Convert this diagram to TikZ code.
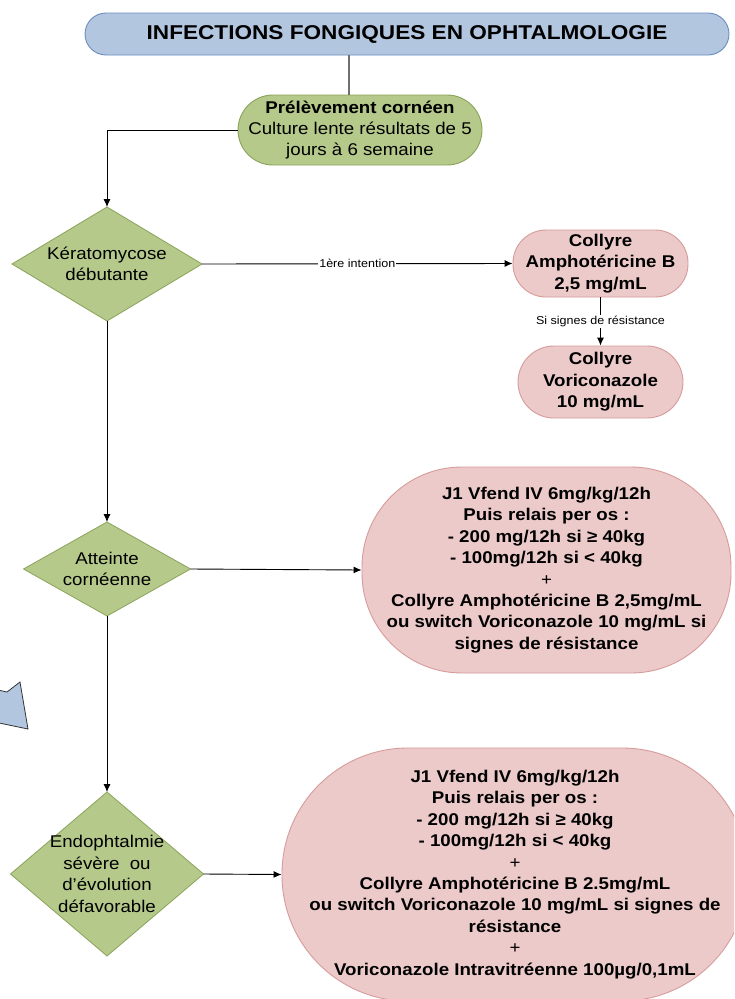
\documentclass[tikz,border=0pt]{standalone}
\usepackage{fontspec}
\setmainfont{Liberation Sans}[FakeStretch=1.1]
\newfontfamily\titlefont{Liberation Sans}[FakeStretch=1.13]
\usetikzlibrary{shapes.geometric,arrows.meta}
\definecolor{titlefill}{HTML}{B3C6E0}
\definecolor{titledraw}{HTML}{6C8EBF}
\definecolor{greenfill}{HTML}{B5C98A}
\definecolor{greendraw}{HTML}{8BA35A}
\definecolor{pinkfill}{HTML}{EDCACA}
\definecolor{pinkdraw}{HTML}{D79B9B}
\definecolor{linegray}{HTML}{707070}
\definecolor{arrowborder}{HTML}{333333}
\tikzset{
  bodytext/.style={font=\fontsize{17}{21.4}\selectfont, align=center, inner sep=0pt},
  boldtext/.style={font=\fontsize{17}{21.4}\selectfont\bfseries, align=center, inner sep=0pt},
  smalllabel/.style={font=\fontsize{11.4}{13}\selectfont, fill=white, inner sep=1pt},
  greenbox/.style={rectangle, draw=greendraw, fill=greenfill, line width=0.9pt, inner sep=0pt},
  pinkbox/.style={rectangle, draw=pinkdraw, fill=pinkfill, line width=0.9pt, inner sep=0pt},
  diam/.style={diamond, draw=greendraw, fill=greenfill, line width=0.8pt, inner sep=0pt, outer sep=0pt},
  conn/.style={draw=black, line width=0.9pt},
  arr/.style={conn, -{Latex[length=8pt,width=7pt]}}
}
\begin{document}
\begin{tikzpicture}[x=1pt,y=-1pt]
\useasboundingbox (0,0) rectangle (734,999);
\clip (0,0) rectangle (734,999);
\fill[white] (0,0) rectangle (734,999);

% partial blue arrow at left edge
\draw[fill=titlefill, draw=arrowborder, line width=0.8pt, line join=miter]
  (-20,686) -- (7,692) -- (20,682) -- (28,729) -- (-20,719) -- cycle;

% title
\node[rectangle, draw=titledraw, fill=titlefill, line width=0.9pt, rounded corners=21pt,
      minimum width=644pt, minimum height=42pt, inner sep=0pt,
      font=\titlefont\fontsize{20}{24}\selectfont\bfseries] (title) at (407,34)
  {INFECTIONS FONGIQUES EN OPHTALMOLOGIE};

% prelevement
\node[greenbox, rounded corners=35pt, minimum width=244pt, minimum height=70pt] (pre) at (360,130) {};
\node[bodytext] (pretext) at (pre.center) {\textbf{Prélèvement cornéen}\\Culture lente résultats de 5\\jours à 6 semaine};

% diamonds
\node[diam, minimum width=190pt, minimum height=114pt] (d1) at (107,264) {};
\node[bodytext] (d1text) at (d1.center) {Kératomycose\\débutante};
\node[diam, minimum width=167pt, minimum height=94pt] (d2) at (107,569) {};
\node[bodytext] (d2text) at (d2.center) {Atteinte\\cornéenne};
\node[diam, minimum width=193pt, minimum height=164pt] (d3) at (107,874) {};
\node[bodytext] (d3text) at (d3.center) {Endophtalmie\\sévère\ \ ou\\d’évolution\\défavorable};

% collyre boxes
\node[pinkbox, rounded corners=33pt, minimum width=175pt, minimum height=67pt] (amph) at (600.5,263.5) {};
\node[boldtext] (amphtext) at (amph.center) {Collyre\\Amphotéricine B\\2,5 mg/mL};
\node[pinkbox, rounded corners=36pt, minimum width=165pt, minimum height=72pt] (vori) at (600.5,382) {};
\node[boldtext] (voritext) at (vori.center) {Collyre\\Voriconazole\\10 mg/mL};

% big box 1
\node[pinkbox, rounded corners=100pt, minimum width=369pt, minimum height=206pt] (big1) at (546.5,570) {};
\node[boldtext] (big1text) at (big1.center) {J1 Vfend IV 6mg/kg/12h\\Puis relais per os :\\- 200 mg/12h si ≥ 40kg\\- 100mg/12h si < 40kg\\{\mdseries +}\\Collyre Amphotéricine B 2,5mg/mL\\ou switch Voriconazole 10 mg/mL si\\signes de résistance};

% big box 2
\node[pinkbox, rounded corners=126pt, minimum width=466pt, minimum height=253pt] (big2) at (515,874.5) {};
\node[boldtext] (big2text) at (big2.center) {J1 Vfend IV 6mg/kg/12h\\Puis relais per os :\\- 200 mg/12h si ≥ 40kg\\- 100mg/12h si < 40kg\\{\mdseries +}\\Collyre Amphotéricine B 2.5mg/mL\\ou switch Voriconazole 10 mg/mL si signes de\\résistance\\{\mdseries +}\\Voriconazole Intravitréenne 100µg/0,1mL};

% connectors
\coordinate (t1) at (349,55);
\draw[draw=linegray, line width=1.1pt] (t1) -- (t1 |- pre.north);
\draw[arr] (pre.west) -| (d1.north);
\draw[arr] (d1.east) -- node[smalllabel] (lab1) {1ère intention} (amph.west);
\draw[arr] (amph.south) -- node[smalllabel] (lab2) {Si signes de résistance} (vori.north);
\draw[arr] (d1.south) -- (d2.north);
\draw[arr] (d2.east) -- (big1.west);
\draw[arr] (d2.south) -- (d3.north);
\draw[arr] (d3.east) -- (big2.west);
\end{tikzpicture}
\end{document}
